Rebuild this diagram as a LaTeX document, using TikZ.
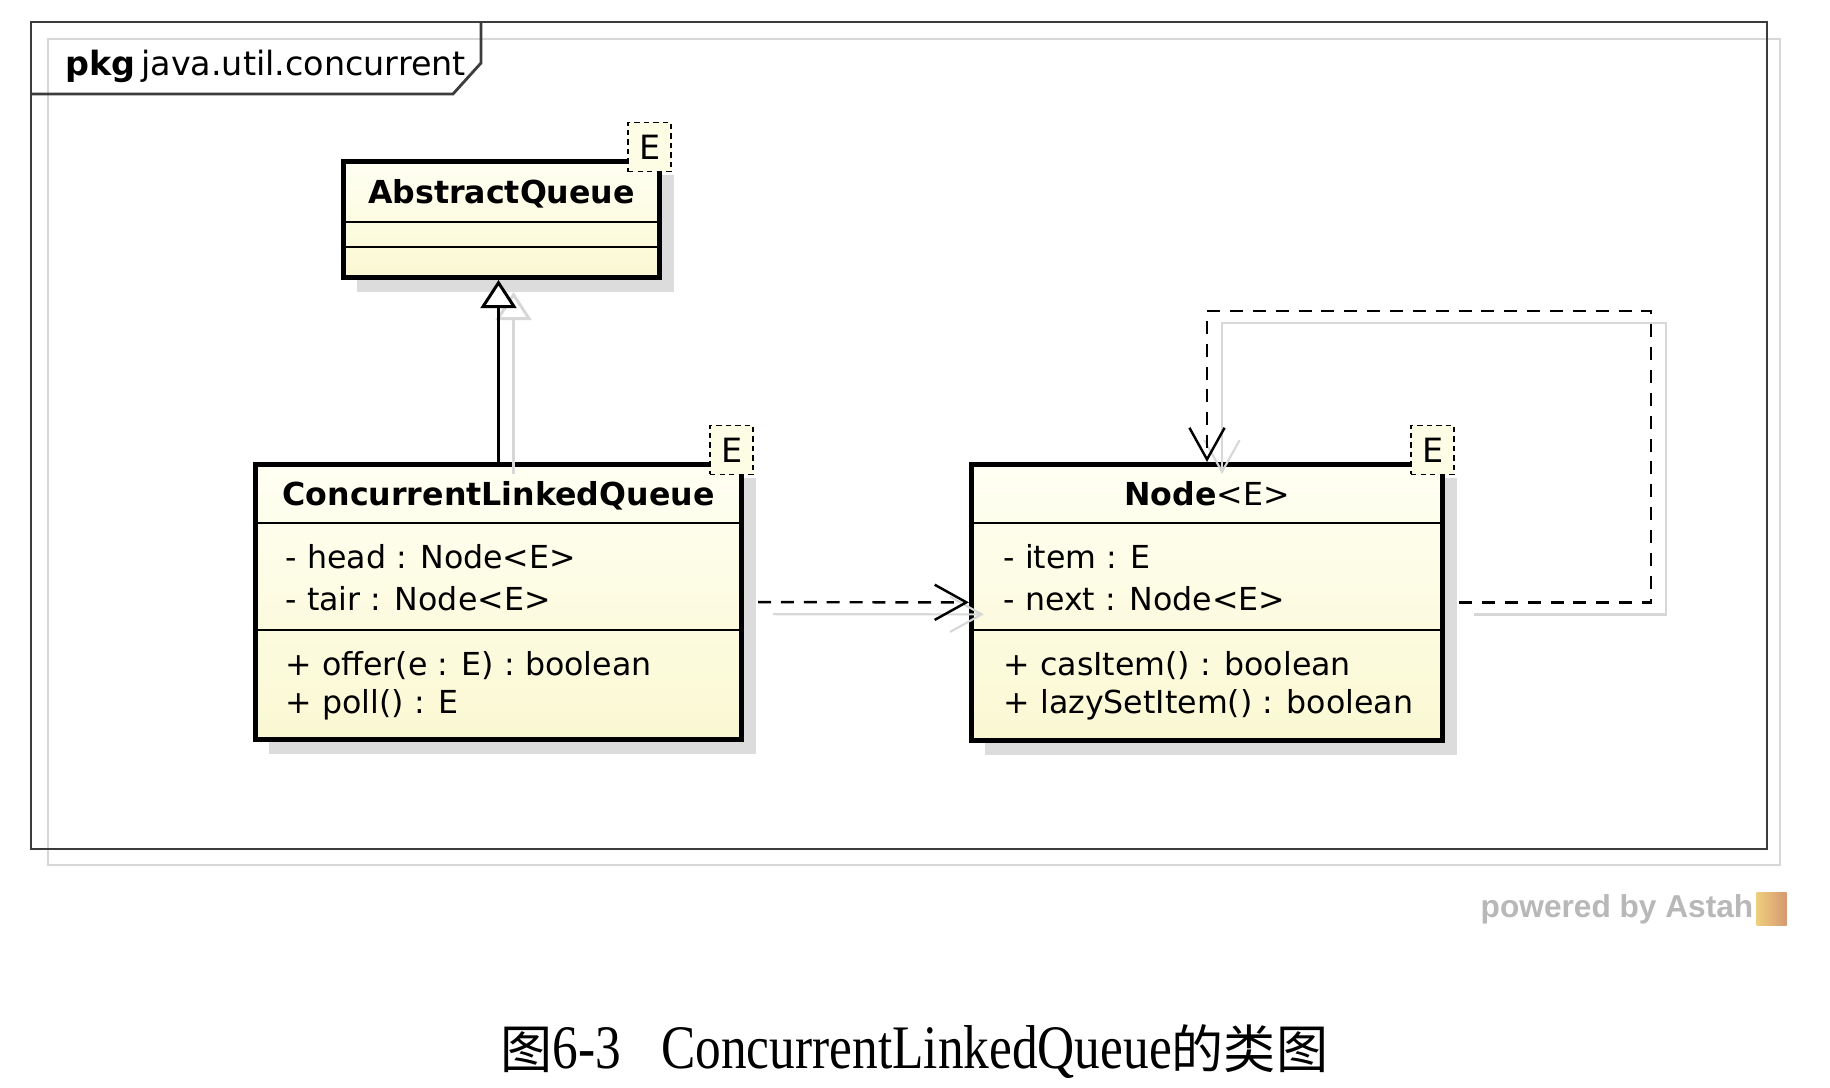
\documentclass[tikz,border=0pt]{standalone}
\usepackage{fontspec}
\setmainfont{DejaVu Sans}
\newfontfamily\capfont[FakeStretch=0.83]{Liberation Serif}
\newfontfamily\cjkfont{Noto Sans CJK SC}
\newfontfamily\astahfont{Liberation Sans}
\usetikzlibrary{positioning}
\usetikzlibrary{arrows.meta}
\usetikzlibrary{shadows}

\definecolor{umltop}{RGB}{255,255,243}
\definecolor{umlbot}{RGB}{250,248,210}
\definecolor{umlfill}{RGB}{253,252,228}
\definecolor{shadowgray}{RGB}{220,220,220}
\definecolor{ghostgray}{RGB}{215,215,215}
\definecolor{framegray}{RGB}{60,60,60}

\tikzset{
    umlclass/.style={draw, rectangle, line width=1.4pt, top color=umltop, bottom color=umlbot, inner sep=0pt,
        drop shadow={shadow xshift=0.14cm, shadow yshift=-0.14cm, fill=shadowgray, opacity=1}},
    tparam/.style={draw, rectangle, dash pattern=on 1.5pt off 1.2pt, line width=0.5pt, fill=umlfill,
        minimum width=0.43cm, minimum height=0.49cm, inner sep=0pt, font=\fontsize{9.5pt}{11pt}\selectfont},
    member/.style={anchor=base west, inner sep=0pt, font=\fontsize{9pt}{11pt}\selectfont},
    clstitle/.style={anchor=base, inner sep=0pt, font=\fontsize{9pt}{11pt}\selectfont},
    sepline/.style={line width=0.6pt},
    pkgframe/.style={draw=framegray, line width=0.8pt},
    ghost/.style={draw=ghostgray, line width=0.6pt},
    ghostshift/.style={transform canvas={xshift=0.15cm, yshift=-0.12cm}},
    dep/.style={dash pattern=on 3.7pt off 2.8pt, line width=0.7pt, -{Straight Barb[length=9pt, width=10pt]}},
    inherit/.style={line width=0.85pt, -{Triangle[length=8pt, width=10.2pt, fill=white]}},
}

\begin{document}
\begin{tikzpicture}[x=0.01cm, y=-0.01cm]
    \fill[white] (0,0) rectangle (1830,1088);
    \useasboundingbox (0,0) rectangle (1830,1088);

    % package frame
    \draw[ghost] (48,39) rectangle (1780,865);
    \draw[pkgframe] (31,22) rectangle (1767,849);
    \draw[pkgframe] (481,22) -- (481,63) -- (453,94) -- (31,94);
    \node[anchor=base west, inner sep=0pt, font=\fontsize{9.5pt}{11pt}\selectfont] (pkg) at (65,76) {\textbf{pkg}\,java.util.concurrent};

    % classes
    \node[umlclass, minimum width=3.16cm, minimum height=1.16cm] (aq) at (501.5,219.5) {};
    \node[umlclass, minimum width=4.86cm, minimum height=2.75cm] (clq) at (498.5,602) {};
    \node[umlclass, minimum width=4.71cm, minimum height=2.76cm] (nodecls) at (1207,602.5) {};

    \draw[sepline] (aq.west |- 0,222) -- (aq.east |- 0,222);
    \draw[sepline] (aq.west |- 0,247) -- (aq.east |- 0,247);
    \draw[sepline] (clq.west |- 0,523) -- (clq.east |- 0,523);
    \draw[sepline] (clq.west |- 0,630) -- (clq.east |- 0,630);
    \draw[sepline] (nodecls.west |- 0,523) -- (nodecls.east |- 0,523);
    \draw[sepline] (nodecls.west |- 0,630) -- (nodecls.east |- 0,630);

    \node[clstitle] (aqname) at (501.5,204) {\textbf{AbstractQueue}};
    \node[clstitle] (clqname) at (498.5,505) {\textbf{ConcurrentLinkedQueue}};
    \node[clstitle] (nodename) at (1207,505) {\textbf{Node}<E>};

    \node[member] (head) at (285,568) {- head : Node<E>};
    \node[member] (tair) at (285,610) {- tair : Node<E>};
    \node[member] (offer) at (285,675) {+ offer(e : E) : boolean};
    \node[member] (poll) at (285,713) {+ poll() : E};
    \node[member] (item) at (1003,568) {- item : E};
    \node[member] (next) at (1003,610) {- next : Node<E>};
    \node[member] (casitem) at (1003,675) {+ casItem() : boolean};
    \node[member] (lazyset) at (1003,713) {+ lazySetItem() : boolean};

    % template parameters
    \node[tparam] (aqE) at ([shift={(-12.5,-12)}]aq.north east) {E};
    \node[tparam] (clqE) at ([shift={(-12.5,-12)}]clq.north east) {E};
    \node[tparam] (nodeE) at ([shift={(-12.5,-12)}]nodecls.north east) {E};

    % relations
    \begin{scope}[ghost, ghostshift]
        \draw[inherit, ghostgray] (clq.north) -- (clq.north |- aq.south);
        \draw[line width=0.6pt, -{Straight Barb[length=9pt, width=10pt]}, shorten <=0.14cm] (clq) -- (nodecls);
        \draw[line width=0.6pt, -{Straight Barb[length=9pt, width=10pt]}, shorten <=0.14cm] (nodecls.east) -| (1651,311) -| (nodecls.north);
    \end{scope}
    \draw[inherit] (clq.north) -- (clq.north |- aq.south);
    \draw[dep, shorten <=0.14cm] (clq) -- (nodecls);
    \draw[dep, shorten <=0.14cm] (nodecls.east) -| (1651,311) -| (nodecls.north);

    % footer
    \node[anchor=base west, inner sep=0pt, font=\astahfont\bfseries\fontsize{9pt}{11pt}\selectfont, text=black!28] (powered) at (1480,917) {powered by Astah};
    \node[right=0.02cm of powered, minimum width=0.3cm, minimum height=0.33cm, inner sep=0pt,
        left color={rgb,255:red,238;green,205;blue,125}, right color={rgb,255:red,214;green,152;blue,112}] (logo) {};

    \node[anchor=base west, inner sep=0pt] (caption) at (500,1068) {{\cjkfont\fontsize{14.8pt}{16pt}\selectfont 图}{\capfont\fontsize{17.6pt}{20pt}\selectfont 6-3\hspace{0.40cm}ConcurrentLinkedQueue}{\cjkfont\fontsize{14.8pt}{16pt}\selectfont 的类图}};
\end{tikzpicture}
\end{document}
